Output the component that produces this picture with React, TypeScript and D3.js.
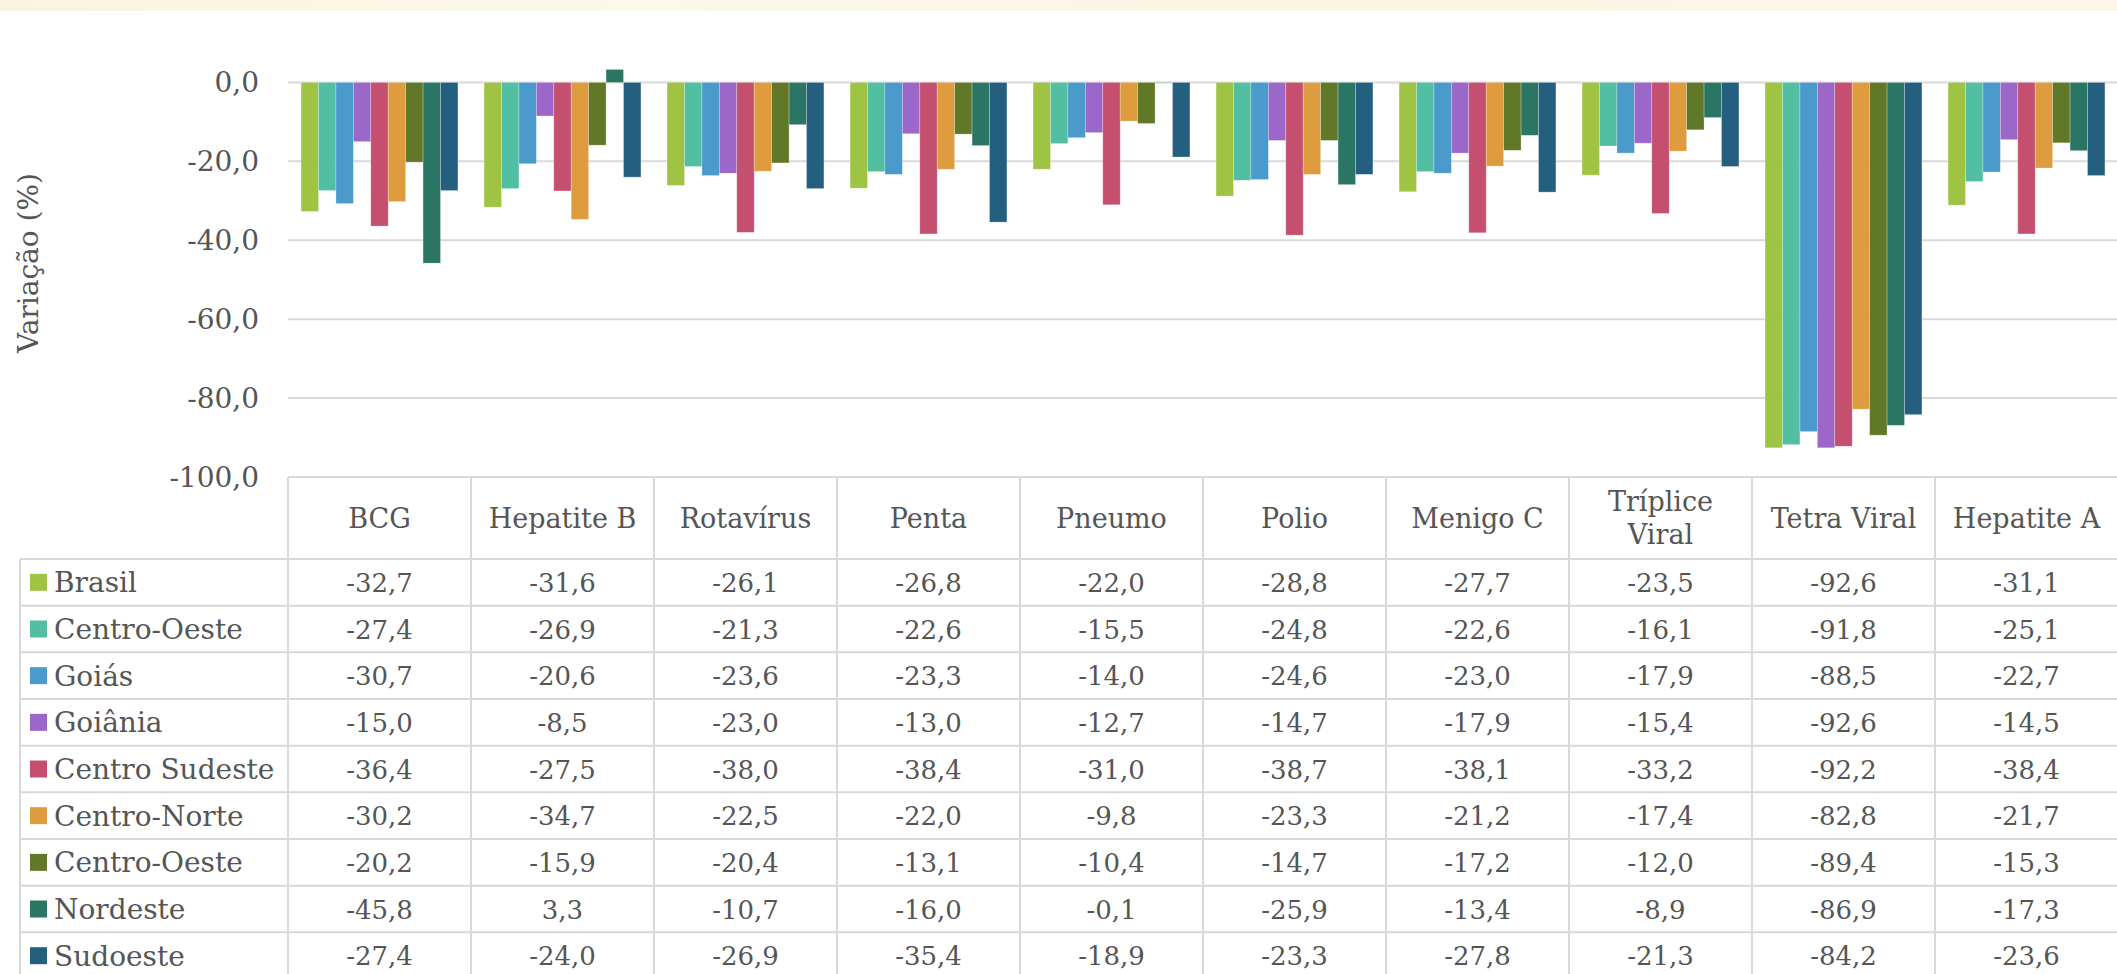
import React from 'react';
import { scaleBand, scaleLinear, range } from 'd3';

const categories = ['BCG', 'Hepatite B', 'Rotavírus', 'Penta', 'Pneumo', 'Polio', 'Menigo C', 'Tríplice Viral', 'Tetra Viral', 'Hepatite A'];

const seriesNames = ['Brasil', 'Centro-Oeste', 'Goiás', 'Goiânia', 'Centro Sudeste', 'Centro-Norte', 'Centro-Oeste', 'Nordeste', 'Sudoeste'];

const seriesColors = ['#9fc443', '#52bfa3', '#4a9bcb', '#9b67c9', '#c44f6f', '#df9c3e', '#617828', '#2a7563', '#245f80'];

// one row per series, one value per vaccine
const brasil = [-32.7, -31.6, -26.1, -26.8, -22.0, -28.8, -27.7, -23.5, -92.6, -31.1];
const centroOeste = [-27.4, -26.9, -21.3, -22.6, -15.5, -24.8, -22.6, -16.1, -91.8, -25.1];
const goias = [-30.7, -20.6, -23.6, -23.3, -14.0, -24.6, -23.0, -17.9, -88.5, -22.7];
const goiania = [-15.0, -8.5, -23.0, -13.0, -12.7, -14.7, -17.9, -15.4, -92.6, -14.5];
const centroSudeste = [-36.4, -27.5, -38.0, -38.4, -31.0, -38.7, -38.1, -33.2, -92.2, -38.4];
const centroNorte = [-30.2, -34.7, -22.5, -22.0, -9.8, -23.3, -21.2, -17.4, -82.8, -21.7];
const centroOeste2 = [-20.2, -15.9, -20.4, -13.1, -10.4, -14.7, -17.2, -12.0, -89.4, -15.3];
const nordeste = [-45.8, 3.3, -10.7, -16.0, -0.1, -25.9, -13.4, -8.9, -86.9, -17.3];
const sudoeste = [-27.4, -24.0, -26.9, -35.4, -18.9, -23.3, -27.8, -21.3, -84.2, -23.6];

const seriesValues = [brasil, centroOeste, goias, goiania, centroSudeste, centroNorte, centroOeste2, nordeste, sudoeste];

const yTicks = [0, -20, -40, -60, -80, -100];

const W = 2117;
const H = 974;
const FONT = '"DejaVu Serif", "Liberation Serif", serif';
const TEXT = '#555555';
const GRID = '#d9d9d9';

const fmt = (v: number) => v.toFixed(1).replace('.', ',');

export default function App() {
  const plotLeft = 288;
  const colW = 183;
  const x = scaleBand<string>()
    .domain(categories)
    .range([plotLeft, plotLeft + colW * categories.length])
    .paddingInner(0)
    .paddingOuter(0);

  const xInner = scaleBand<number>()
    .domain(range(seriesNames.length))
    .range([0, x.bandwidth()])
    .paddingInner(0)
    .paddingOuter(0.75);

  const y = scaleLinear().domain([-100, 10]).range([477, 43]);

  const tableTop = y(-100);
  const headerBottom = 559;
  const rowH = 46.67;
  const legendLeft = 20;

  return (
    <div style={{ position: 'absolute', left: 0, top: 0 }}>
      <svg width={W} height={H} style={{ display: 'block', background: '#fff' }} fontFamily={FONT}>
        <defs>
          <linearGradient id="band" x1="0" x2="1" y1="0" y2="0">
            <stop offset="0" stopColor="#fbf4e2" />
            <stop offset="0.3" stopColor="#fcf8ea" />
            <stop offset="0.6" stopColor="#fbf5e6" />
            <stop offset="1" stopColor="#fcf7e8" />
          </linearGradient>
        </defs>
        <rect x={0} y={0} width={W} height={11} fill="url(#band)" />

        {/* gridlines + y ticks */}
        {yTicks.map((t) => (
          <g key={t}>
            <line x1={plotLeft} x2={W} y1={y(t)} y2={y(t)} stroke={GRID} strokeWidth={2} />
            <text x={259} y={y(t) + 10} textAnchor="end" fontSize={28} fill={TEXT}>
              {fmt(t)}
            </text>
          </g>
        ))}

        <text
          transform={`translate(38,${263}) rotate(-90)`}
          textAnchor="middle"
          fontSize={28}
          fill={TEXT}
        >
          Variação (%)
        </text>

        {/* bars */}
        {categories.map((c, ci) => (
          <g key={c} transform={`translate(${x(c)},0)`}>
            {seriesValues.map((vals, si) => {
              const v = vals[ci];
              const y0 = y(Math.max(0, v));
              const y1 = y(Math.min(0, v));
              return (
                <rect
                  key={si}
                  x={xInner(si)}
                  y={y0}
                  width={xInner.bandwidth()}
                  height={Math.max(0, y1 - y0)}
                  fill={seriesColors[si]}
                  stroke="#ffffff"
                  strokeOpacity={0.35}
                  strokeWidth={0.75}
                />
              );
            })}
          </g>
        ))}

        {/* data table */}
        <g>
          {categories.map((c) => (
            <line key={c} x1={x(c)} x2={x(c)} y1={tableTop} y2={H} stroke={GRID} strokeWidth={2} />
          ))}
          <line x1={legendLeft} x2={legendLeft} y1={headerBottom} y2={H} stroke={GRID} strokeWidth={2} />
          {range(seriesNames.length + 1).map((i) => (
            <line
              key={i}
              x1={legendLeft}
              x2={W}
              y1={headerBottom + i * rowH}
              y2={headerBottom + i * rowH}
              stroke={GRID}
              strokeWidth={2}
            />
          ))}

          {categories.map((c) => {
            const cx = (x(c) as number) + x.bandwidth() / 2;
            const lines = c.length > 12 ? c.split(' ') : [c];
            const mid = (tableTop + headerBottom) / 2;
            const lh = 33;
            return (
              <text key={c} textAnchor="middle" fontSize={27} fill={TEXT}>
                {lines.map((l, li) => (
                  <tspan key={li} x={cx} y={mid + 9.5 + (li - (lines.length - 1) / 2) * lh}>
                    {l}
                  </tspan>
                ))}
              </text>
            );
          })}

          {seriesNames.map((name, si) => {
            const cy = headerBottom + si * rowH + rowH / 2;
            return (
              <g key={si}>
                <rect x={30} y={cy - 8.5} width={17} height={17} fill={seriesColors[si]} />
                <text x={54} y={cy + 10} fontSize={28} fill={TEXT}>
                  {name}
                </text>
                {categories.map((c, ci) => (
                  <text
                    key={c}
                    x={(x(c) as number) + x.bandwidth() / 2}
                    y={cy + 9.5}
                    textAnchor="middle"
                    fontSize={26}
                    fill={TEXT}
                  >
                    {fmt(seriesValues[si][ci])}
                  </text>
                ))}
              </g>
            );
          })}
        </g>
      </svg>
    </div>
  );
}
